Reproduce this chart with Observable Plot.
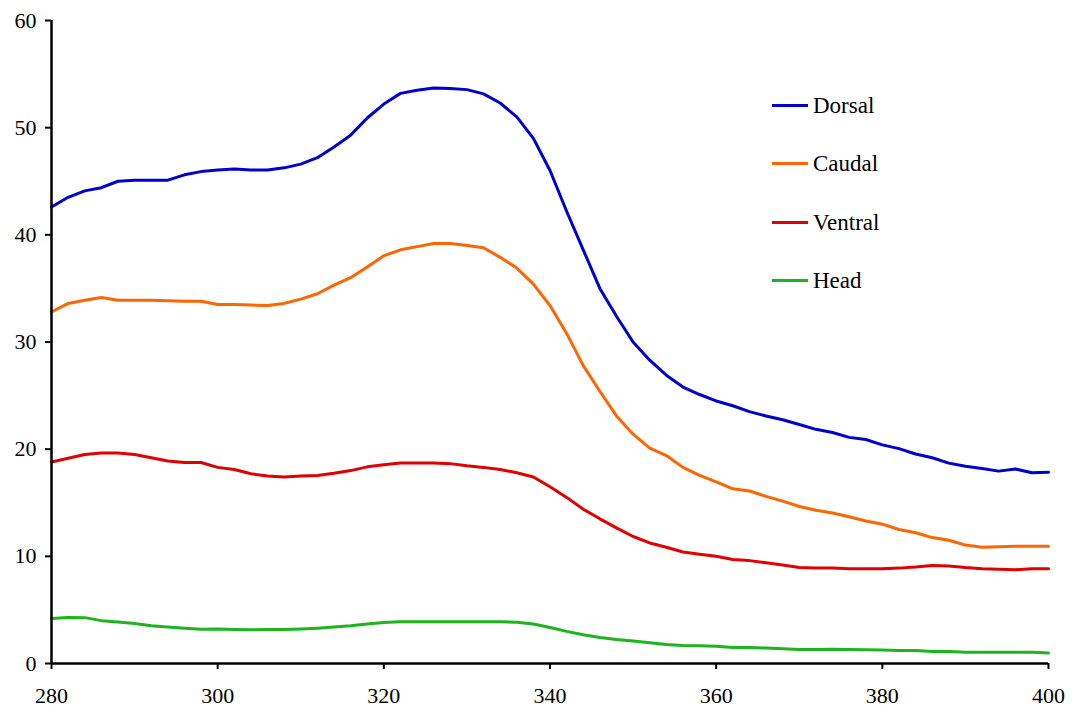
<!DOCTYPE html>
<html>
<head>
<meta charset="utf-8">
<script src="https://cdn.jsdelivr.net/npm/d3@7"></script>
<script src="https://cdn.jsdelivr.net/npm/@observablehq/plot@0.6"></script>
<style>
  html, body { margin: 0; padding: 0; background: #fff; }
  #wrap { position: relative; width: 1072px; height: 709px; font-family: "Liberation Serif", "Times New Roman", serif; }
  #legend { position: absolute; left: 772px; top: 76px; }
  .item { display: flex; align-items: center; height: 58.5px; font-size: 23px; color: #000; line-height: 1; }
  .item .swatch { width: 36px; height: 3px; margin-right: 5px; }
</style>
</head>
<body>
<div id="wrap"></div>
<script>
// Wavelength (nm), sampled every 2 nm
const wavelength = d3.range(280, 401, 2);

const dorsal = [
  42.6, 43.5, 44.1, 44.4, 45.0, 45.1, 45.1, 45.1, 45.6, 45.9,
  46.05, 46.15, 46.05, 46.05, 46.25, 46.6, 47.2, 48.2, 49.3, 50.9,
  52.2, 53.2, 53.5, 53.7, 53.65, 53.55, 53.15, 52.3, 51.0, 49.0,
  46.0, 42.2, 38.6, 35.0, 32.4, 30.0, 28.3, 26.9, 25.8, 25.1,
  24.5, 24.05, 23.5, 23.1, 22.75, 22.3, 21.85, 21.55, 21.1, 20.9,
  20.4, 20.05, 19.55, 19.2, 18.7, 18.4, 18.2, 17.95, 18.15, 17.8,
  17.85
];

const caudal = [
  32.8, 33.6, 33.9, 34.15, 33.9, 33.9, 33.9, 33.85, 33.8, 33.8,
  33.5, 33.5, 33.45, 33.4, 33.6, 34.0, 34.5, 35.3, 36.0, 37.0,
  38.05, 38.6, 38.9, 39.2, 39.2, 39.0, 38.8, 37.9, 36.9, 35.4,
  33.4, 30.8, 27.8, 25.4, 23.1, 21.4, 20.1, 19.4, 18.3, 17.55,
  16.95, 16.3, 16.1, 15.6, 15.15, 14.65, 14.3, 14.05, 13.7, 13.3,
  13.0, 12.5, 12.2, 11.75, 11.5, 11.05, 10.85, 10.9, 10.95, 10.95,
  10.95
];

const ventral = [
  18.8, 19.15, 19.5, 19.65, 19.65, 19.5, 19.2, 18.9, 18.75, 18.75,
  18.3, 18.1, 17.7, 17.5, 17.4, 17.5, 17.55, 17.75, 18.0, 18.35,
  18.55, 18.7, 18.7, 18.7, 18.65, 18.45, 18.3, 18.1, 17.8, 17.4,
  16.5, 15.5, 14.4, 13.5, 12.65, 11.85, 11.25, 10.85, 10.4, 10.2,
  10.0, 9.7, 9.6, 9.4, 9.2, 8.95, 8.9, 8.9, 8.85, 8.85,
  8.85, 8.9, 9.0, 9.15, 9.1, 8.95, 8.85, 8.8, 8.75, 8.85,
  8.85
];

const head = [
  4.2, 4.3, 4.28, 4.0, 3.87, 3.73, 3.52, 3.4, 3.3, 3.2,
  3.23, 3.17, 3.14, 3.17, 3.17, 3.23, 3.3, 3.4, 3.52, 3.68,
  3.83, 3.9, 3.9, 3.9, 3.9, 3.9, 3.9, 3.9, 3.85, 3.68,
  3.36, 3.0, 2.68, 2.43, 2.24, 2.09, 1.93, 1.77, 1.68, 1.65,
  1.6, 1.5, 1.5, 1.44, 1.37, 1.31, 1.31, 1.34, 1.31, 1.28,
  1.25, 1.22, 1.22, 1.12, 1.12, 1.06, 1.06, 1.06, 1.06, 1.06,
  0.97
];

const seriesNames = ["Dorsal", "Caudal", "Ventral", "Head"];
const seriesColors = ["#0000cc", "#ff6600", "#e00000", "#1db41d"];
const seriesValues = [dorsal, caudal, ventral, head];

const xTicks = [280, 300, 320, 340, 360, 380, 400];
const yTicks = [0, 10, 20, 30, 40, 50, 60];

// Long-format table for the line marks
const rows = seriesNames.flatMap((name, i) =>
  wavelength.map((w, j) => ({ series: name, wavelength: w, value: seriesValues[i][j] }))
);

const chart = Plot.plot({
  width: 1072,
  height: 709,
  marginLeft: 51,
  marginRight: 24,
  marginTop: 20,
  marginBottom: 46,
  style: { fontFamily: "Liberation Serif, Times New Roman, serif", fontSize: "22px", color: "#000", background: "#fff" },
  x: { domain: [280, 400] },
  y: { domain: [0, 60] },
  color: { domain: seriesNames, range: seriesColors },
  marks: [
    Plot.line(rows, { x: "wavelength", y: "value", z: "series", stroke: "series", strokeWidth: 3, strokeLinejoin: "round" }),
    Plot.axisY({ ticks: yTicks, tickSize: 6, tickPadding: 9, stroke: "#000", strokeWidth: 2, strokeOpacity: 1, label: null, fontSize: 22 }),
    Plot.axisX({ ticks: xTicks, tickSize: 6, tickPadding: 18, stroke: "#000", strokeWidth: 2, strokeOpacity: 1, label: null, fontSize: 22 }),
    Plot.ruleX([280], { stroke: "#000", strokeWidth: 2.5 }),
    Plot.ruleY([0], { stroke: "#000", strokeWidth: 2.5 })
  ]
});

const wrap = document.getElementById("wrap");
wrap.appendChild(chart);

// Legend placed inside the plot area, upper right
const legend = document.createElement("div");
legend.id = "legend";
seriesNames.forEach((name, i) => {
  const item = document.createElement("div");
  item.className = "item";
  const sw = document.createElement("span");
  sw.className = "swatch";
  sw.style.background = seriesColors[i];
  const label = document.createElement("span");
  label.textContent = name;
  item.append(sw, label);
  legend.appendChild(item);
});
wrap.appendChild(legend);
</script>
</body>
</html>
